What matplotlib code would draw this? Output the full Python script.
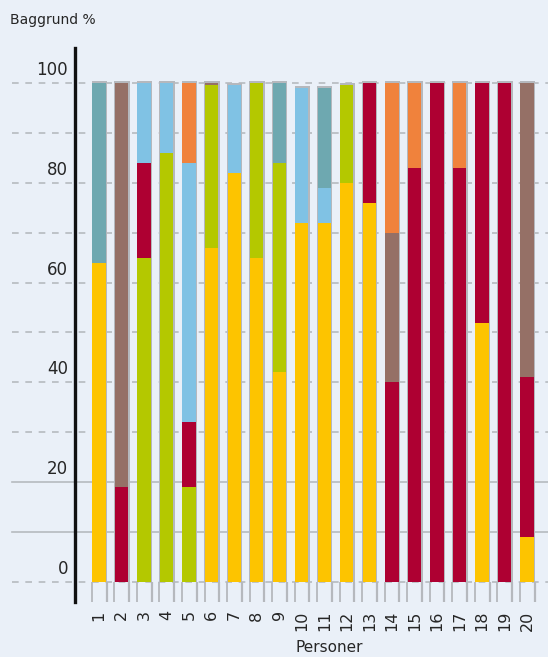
import matplotlib
matplotlib.use('Agg')
from matplotlib import pyplot as plt
import matplotlib.transforms as mtransforms
import numpy as np

# Data (stack order bottom -> top)
# ===================================================================================================
personer = [str(i) for i in range(1, 21)]
gul = [64, 0, 0, 0, 0, 67, 82, 65, 42, 72, 72, 80, 76, 0, 0, 0, 0, 52, 0, 9]
groen = [0, 0, 65, 86, 19, 32.5, 0, 35, 42, 0, 0, 19.5, 0, 0, 0, 0, 0, 0, 0, 0]
roed = [0, 19, 19, 0, 13, 0, 0, 0, 0, 0, 0, 0, 24, 40, 83, 100, 83, 48, 100, 32]
lyseblaa = [0, 0, 16, 14, 52, 0, 17.5, 0, 0, 27, 7, 0, 0, 0, 0, 0, 0, 0, 0, 0]
petrol = [36, 0, 0, 0, 0, 0, 0, 0, 16, 0, 20, 0, 0, 0, 0, 0, 0, 0, 0, 0]
brun = [0, 81, 0, 0, 0, 0.5, 0, 0, 0, 0, 0, 0, 0, 30, 0, 0, 0, 0, 0, 59]
orange = [0, 0, 0, 0, 16, 0, 0, 0, 0, 0, 0, 0, 0, 30, 17, 0, 17, 0, 0, 0]

serier = [gul, groen, roed, lyseblaa, petrol, brun, orange]
farver = ['#fdc400', '#b4c800', '#ae0032', '#80c2e4', '#6ea8b0', '#957066', '#f0823c']

y_ticks = [0, 20, 40, 60, 80, 100]

bg = '#eaf0f8'
grid_col = '#b6babf'
edge_col = '#b5b8bd'

# Figure
# ===================================================================================================
fig = plt.figure(figsize=(5.48, 6.57), dpi=100, facecolor=bg)
ax = fig.add_axes([75/548, 55/657, 473/548, 554/657])
ax.set_facecolor(bg)

x = np.arange(1, len(personer) + 1)
ax.set_xlim(-0.065, 20.93)
ax.set_ylim(-4, 107)

# gridlines every 10, extending left of the axis
for v in range(0, 101, 10):
    ls = '-' if v in (10, 20) else (0, (4, 4))
    ax.axhline(v, xmin=-0.133, xmax=1, color=grid_col, lw=1.2, ls=ls,
               zorder=0, clip_on=False)

# grey bar frame + lines running down to the bottom of the axis
total = np.sum(serier, axis=0)
bw = 0.59
ax.bar(x + 0.02, total + 0.4, width=bw + 0.09, color=edge_col, lw=0, zorder=1)
ax.vlines(x - bw/2 - 0.02, -4, 0, color=edge_col, lw=1.3, zorder=1)
ax.vlines(x + bw/2 + 0.04, -4, 0, color=edge_col, lw=1.6, zorder=1)

bottom = np.zeros(len(x))
for vals, c in zip(serier, farver):
    vals = np.array(vals, dtype=float)
    ax.bar(x, vals, bottom=bottom, width=bw, color=c, lw=0, zorder=2)
    bottom += vals

# axes styling
for s in ['top', 'right', 'bottom']:
    ax.spines[s].set_visible(False)
ax.spines['left'].set_linewidth(2.4)
ax.spines['left'].set_color('#111111')

ax.set_yticks([])
trans = mtransforms.blended_transform_factory(ax.transAxes, ax.transData)
for v in y_ticks:
    ax.text(-0.015, v + 2.6, str(v), transform=trans, ha='right', va='center',
            fontsize=12, color='#262626')

ax.set_xticks(x)
ax.set_xticklabels(personer, rotation=90, fontsize=11.5, color='#262626')
ax.tick_params(axis='x', length=0, pad=6)

fig.text(329/548, 1 - 648/657, 'Personer', ha='center', va='center',
         fontsize=11, color='#262626')
fig.text(10/548, 1 - 20/657, 'Baggrund %', ha='left', va='center',
         fontsize=10, color='#262626')

plt.savefig('out.png', dpi=100, facecolor=bg)
